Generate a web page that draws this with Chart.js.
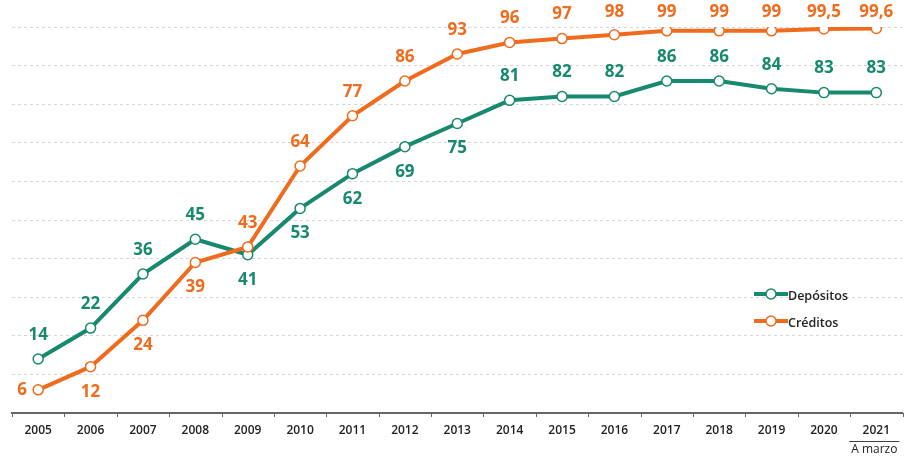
<!DOCTYPE html>
<html>
<head>
<meta charset="utf-8">
<script src="https://cdn.jsdelivr.net/npm/chart.js@4/dist/chart.umd.min.js"></script>
<style>
  html, body { margin: 0; padding: 0; background: #fff; }
  #wrap { width: 909px; height: 458px; position: relative; }
</style>
</head>
<body>
<div id="wrap"><canvas id="c" width="909" height="458"></canvas></div>
<script>
const years = ['2005','2006','2007','2008','2009','2010','2011','2012','2013','2014','2015','2016','2017','2018','2019','2020','2021'];
const depositos = [14, 22, 36, 45, 41, 53, 62, 69, 75, 81, 82, 82, 86, 86, 84, 83, 83];
const creditos = [6, 12, 24, 39, 43, 64, 77, 86, 93, 96, 97, 98, 99, 99, 99, 99.5, 99.6];
const depLabelSide = ['above','above','above','above','below','below','below','below','below','above','above','above','above','above','above','above','above'];
const credLabelSide = ['left','below','below','below','above','above','above','above','above','above','above','above','above','above','above','above','above'];
const lastNote = 'A marzo';

const GREEN = '#17896f';
const ORANGE = '#ef6c1e';

const valueLabels = {
  id: 'valueLabels',
  afterDatasetsDraw(chart) {
    const ctx = chart.ctx;
    ctx.save();
    ctx.font = '700 17px "Open Sans"';
    ctx.textAlign = 'center';
    ctx.textBaseline = 'middle';
    chart.data.datasets.forEach((ds, di) => {
      const meta = chart.getDatasetMeta(di);
      const sides = ds.labelSides;
      meta.data.forEach((pt, i) => {
        const txt = String(ds.data[i]).replace('.', ',');
        let x = pt.x, y = pt.y;
        const s = sides[i];
        if (s === 'above') y = Math.max(12, y - 24);
        else if (s === 'below') y = y + 25;
        else if (s === 'left') x = x - 16;
        ctx.fillStyle = ds.borderColor;
        ctx.fillText(txt, x, y);
      });
    });
    ctx.restore();
  }
};

const extras = {
  id: 'extras',
  afterDraw(chart) {
    const ctx = chart.ctx;
    const xs = chart.scales.x;
    const area = chart.chartArea;
    ctx.save();
    // tick marks at category boundaries
    const half = (xs.getPixelForValue(1) - xs.getPixelForValue(0)) / 2;
    ctx.strokeStyle = '#666';
    ctx.lineWidth = 1;
    for (let i = 0; i <= years.length; i++) {
      const x = Math.round(xs.getPixelForValue(0) - half + i * half * 2) + 0.5;
      ctx.beginPath();
      ctx.moveTo(x, area.bottom);
      ctx.lineTo(x, area.bottom + 4);
      ctx.stroke();
    }
    // note under last category
    const xl = xs.getPixelForValue(years.length - 1);
    ctx.strokeStyle = '#3a3f55';
    ctx.beginPath();
    ctx.moveTo(xl - 27, 441.5);
    ctx.lineTo(xl + 23, 441.5);
    ctx.stroke();
    ctx.fillStyle = '#222';
    ctx.font = '400 12px "Open Sans"';
    ctx.textAlign = 'center';
    ctx.textBaseline = 'middle';
    ctx.fillText(lastNote, xl - 2, 450);
    // legend
    const items = [chart.data.datasets[1], chart.data.datasets[0]];
    items.forEach((ds, k) => {
      const y = 294 + k * 27;
      ctx.strokeStyle = ds.borderColor;
      ctx.lineWidth = 4;
      ctx.beginPath();
      ctx.moveTo(754, y);
      ctx.lineTo(788, y);
      ctx.stroke();
      ctx.beginPath();
      ctx.arc(771, y, 5, 0, Math.PI * 2);
      ctx.fillStyle = '#fff';
      ctx.fill();
      ctx.lineWidth = 1.5;
      ctx.stroke();
      ctx.fillStyle = '#222';
      ctx.font = '600 12.5px "Open Sans"';
      ctx.textAlign = 'left';
      ctx.textBaseline = 'middle';
      ctx.fillText(ds.label, 788, y + 2);
    });
    ctx.restore();
  }
};

new Chart(document.getElementById('c'), {
  type: 'line',
  data: {
    labels: years,
    datasets: [
      {
        label: 'Créditos',
        data: creditos,
        labelSides: credLabelSide,
        borderColor: ORANGE,
        backgroundColor: '#fff',
        borderWidth: 4,
        pointRadius: 5,
        pointBorderWidth: 1.5,
        pointBackgroundColor: '#fff',
        pointBorderColor: ORANGE,
        tension: 0,
        order: 0
      },
      {
        label: 'Depósitos',
        data: depositos,
        labelSides: depLabelSide,
        borderColor: GREEN,
        backgroundColor: '#fff',
        borderWidth: 4,
        pointRadius: 5,
        pointBorderWidth: 1.5,
        pointBackgroundColor: '#fff',
        pointBorderColor: GREEN,
        tension: 0,
        order: 1
      }
    ]
  },
  options: {
    responsive: false,
    animation: false,
    devicePixelRatio: 1,
    layout: { padding: { left: 12, right: 3, top: 27, bottom: 0 } },
    plugins: { legend: { display: false }, tooltip: { enabled: false } },
    scales: {
      x: {
        offset: true,
        afterFit(s) { s.height = 45; },
        grid: { display: false },
        border: { display: true, color: '#666', width: 2 },
        ticks: { color: '#222', font: { family: 'Open Sans', size: 12, weight: '600' }, padding: 2, maxRotation: 0, autoSkip: false }
      },
      y: {
        min: 0,
        max: 100,
        afterFit(s) { s.width = 0; },
        ticks: { display: false, stepSize: 10 },
        border: { display: false, dash: [3, 3] },
        grid: { color: '#d6d6d6', lineWidth: 1, drawTicks: false }
      }
    }
  },
  plugins: [valueLabels, extras]
});
</script>
</body>
</html>
